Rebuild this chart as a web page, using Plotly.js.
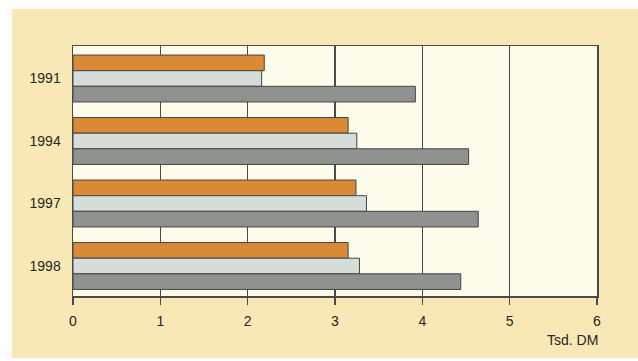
<!DOCTYPE html>
<html>
<head>
<meta charset="utf-8">
<script src="https://cdn.plot.ly/plotly-3.0.1.min.js"></script>
<style>
html,body{margin:0;padding:0;background:#ffffff;}
#chart{width:638px;height:361px;}
</style>
</head>
<body>
<div id="chart"></div>
<script>
var years = ["1991", "1994", "1997", "1998"];
var seriesOrange = [2.19, 3.15, 3.24, 3.15];
var seriesLight = [2.16, 3.25, 3.36, 3.28];
var seriesDark = [3.92, 4.53, 4.64, 4.44];
var xTicks = [0, 1, 2, 3, 4, 5, 6];
var unitLabel = "Tsd. DM";

var lineCol = "#454545";
function barTrace(vals, color) {
  return {
    type: "bar",
    orientation: "h",
    y: years,
    x: vals,
    marker: {color: color, line: {color: lineCol, width: 1}},
    hoverinfo: "x"
  };
}

var data = [
  barTrace(seriesOrange, "#d98a36"),
  barTrace(seriesLight, "#d6dcd8"),
  barTrace(seriesDark, "#8f928f")
];

var layout = {
  width: 638,
  height: 361,
  margin: {l: 73, r: 41, t: 46, b: 65, pad: 0},
  paper_bgcolor: "#f8e8b5",
  plot_bgcolor: "#fdfbea",
  barmode: "group",
  bargap: 0.25,
  bargroupgap: 0,
  showlegend: false,
  font: {family: "Liberation Sans, Arial, sans-serif", size: 14, color: "#262626"},
  xaxis: {
    range: [0, 6],
    tickvals: xTicks,
    ticktext: xTicks.map(String),
    ticks: "outside",
    ticklen: 7,
    tickwidth: 1.5,
    tickcolor: "#4a4a4a",
    ticklabelstandoff: 5,
    showgrid: true,
    gridcolor: "#4a4a4a",
    gridwidth: 1.5,
    zeroline: false,
    showline: true,
    linecolor: "#4a4a4a",
    linewidth: 1.5,
    mirror: true,
    fixedrange: true
  },
  yaxis: {
    type: "category",
    range: [3.48, -0.52],
    ticks: "",
    ticklabelstandoff: 8,
    showgrid: false,
    zeroline: false,
    showline: true,
    linecolor: "#4a4a4a",
    linewidth: 1.5,
    mirror: true,
    fixedrange: true
  },
  shapes: [
    {type: "rect", xref: "paper", yref: "paper", layer: "below",
     x0: -0.2, x1: 1.2, y0: (296 - 9) / 250, y1: (296 + 20) / 250,
     fillcolor: "#ffffff", line: {width: 0}},
    {type: "rect", xref: "paper", yref: "paper", layer: "below",
     x0: -73 / 524, x1: (12 - 73) / 524, y0: -0.4, y1: 1.3,
     fillcolor: "#ffffff", line: {width: 0}},
    {type: "rect", xref: "paper", yref: "paper", layer: "below",
     x0: -0.2, x1: 1.2, y0: -(358 - 296) / 250, y1: -(370 - 296) / 250,
     fillcolor: "#ffffff", line: {width: 0}}
  ],
  annotations: [
    {text: unitLabel, xref: "paper", yref: "paper", x: 1.005, y: -(340 - 296) / 250,
     xanchor: "right", yanchor: "middle", showarrow: false,
     font: {size: 14, color: "#262626"}}
  ]
};

Plotly.newPlot("chart", data, layout, {displayModeBar: false, staticPlot: true});
</script>
</body>
</html>
